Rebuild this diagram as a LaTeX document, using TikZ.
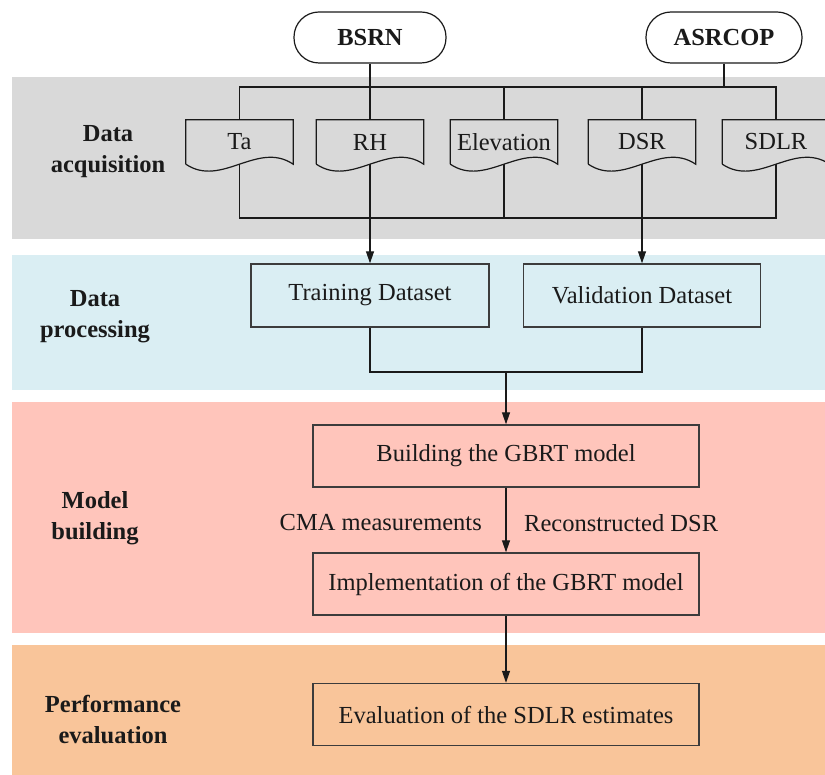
\documentclass[tikz,border=0pt]{standalone}
\usepackage{fontspec}
\setmainfont{Liberation Serif}
\usetikzlibrary{arrows.meta,calc}

\definecolor{bandgray}{HTML}{D9D9D9}
\definecolor{bandblue}{HTML}{DAEEF3}
\definecolor{bandpink}{HTML}{FFC5BB}
\definecolor{bandorange}{HTML}{F9C59A}
\definecolor{ink}{HTML}{1A1A1A}

\tikzset{
  txt/.style={font=\fontsize{24.5}{29}\selectfont, inner sep=0pt, text=ink},
  stage/.style={font=\fontsize{24.5}{31}\selectfont\bfseries, align=center, inner sep=0pt, text=ink},
  source/.style={draw=ink, line width=1.2pt, fill=white, rounded corners=25pt,
    minimum height=51pt, font=\fontsize{24.5}{29}\selectfont\bfseries, text=ink},
  docbox/.style={txt, minimum width=107pt, minimum height=44pt},
  procbox/.style={txt, draw=ink!85, line width=1.4pt},
  link/.style={draw=ink, line width=1.2pt},
  arr/.style={link, -{Triangle[length=12pt,width=8pt]}},
}

% outline of a flowchart "document" symbol around a node
\newcommand{\docoutline}[1]{%
  \draw[link] (#1.south west) -- (#1.north west) -- (#1.north east) -- (#1.south east)
    .. controls ($(#1.south east)+(-35.7,-24)$) and ($(#1.south west)+(35.7,24)$) .. (#1.south west);}

\begin{document}
\begin{tikzpicture}[x=1pt,y=-1pt]
  \useasboundingbox (0,0) rectangle (825,775);
  \clip (0,0) rectangle (825,775);

  % stage bands
  \fill[bandgray]   (12,77)  rectangle (825,239);
  \fill[bandblue]   (12,255) rectangle (825,390);
  \fill[bandpink]   (12,402) rectangle (825,633);
  \fill[bandorange] (12,645) rectangle (825,775);

  % stage labels
  \node[stage] (lacq)  at (108,152) {Data\\acquisition};
  \node[stage] (lproc) at (95,317)  {Data\\processing};
  \node[stage] (lmod)  at (95,518)  {Model\\building};
  \node[stage] (lperf) at (113,720) {Performance\\evaluation};

  % data sources
  \node[source, minimum width=152pt] (bsrn)   at (370,37.5) {BSRN};
  \node[source, minimum width=156pt] (asrcop) at (724,37.5) {ASRCOP};

  % variables
  \node[docbox] (ta)   at (239.5,142) {Ta};
  \node[docbox] (rh)   at (370,142)   {RH};
  \node[docbox] (elev) at (504,142)   {Elevation};
  \node[docbox] (dsr)  at (642,142)   {DSR};
  \node[docbox] (sdlr) at (776,142)   {SDLR};
  \foreach \d in {ta,rh,elev,dsr,sdlr} {\docoutline{\d}}

  % datasets
  \node[procbox, minimum width=238pt, minimum height=63pt] (train) at (370,295.5) {Training Dataset};
  \node[procbox, minimum width=237pt, minimum height=63pt] (val)   at (642,295.5) {Validation Dataset};

  % model steps
  \node[procbox, minimum width=386pt, minimum height=62pt] (build) at (506,456) {Building the GBRT model};
  \node[procbox, minimum width=386pt, minimum height=62pt] (impl)  at (506,584) {Implementation of the GBRT model};
  \node[procbox, minimum width=386pt, minimum height=62pt] (eval)  at (506,714.5) {Evaluation of the SDLR estimates};

  \node[txt, anchor=east] (cma) at (482,523) {CMA measurements};
  \node[txt, anchor=west] (rec) at (524,523) {Reconstructed DSR};

  % bus levels
  \coordinate (topbus) at (0,87);
  \coordinate (botbus) at (0,218);
  \coordinate (merge)  at (0,372);

  % sources to variables
  \draw[link] (ta.north) |- (sdlr.north |- topbus) -- (sdlr.north);
  \draw[link] (elev.north) -- (elev.north |- topbus);
  \draw[link] (dsr.north) -- (dsr.north |- topbus);
  \draw[link] (bsrn.south) -- (rh.north);
  \draw[link] (asrcop.south) -- (asrcop.south |- topbus);

  % variables to datasets
  \draw[link] (ta.south) |- (sdlr.south |- botbus) -- (sdlr.south);
  \draw[link] (elev.south) -- (elev.south |- botbus);
  \draw[arr] (rh.south) -- (train.north);
  \draw[arr] (dsr.south) -- (val.north);

  % datasets to model
  \draw[link] (train.south) |- (val.south |- merge) -- (val.south);
  \draw[arr] (build.north |- merge) -- (build.north);
  \draw[arr] (build.south) -- (impl.north);
  \draw[arr] (impl.south) -- (eval.north);
\end{tikzpicture}
\end{document}
